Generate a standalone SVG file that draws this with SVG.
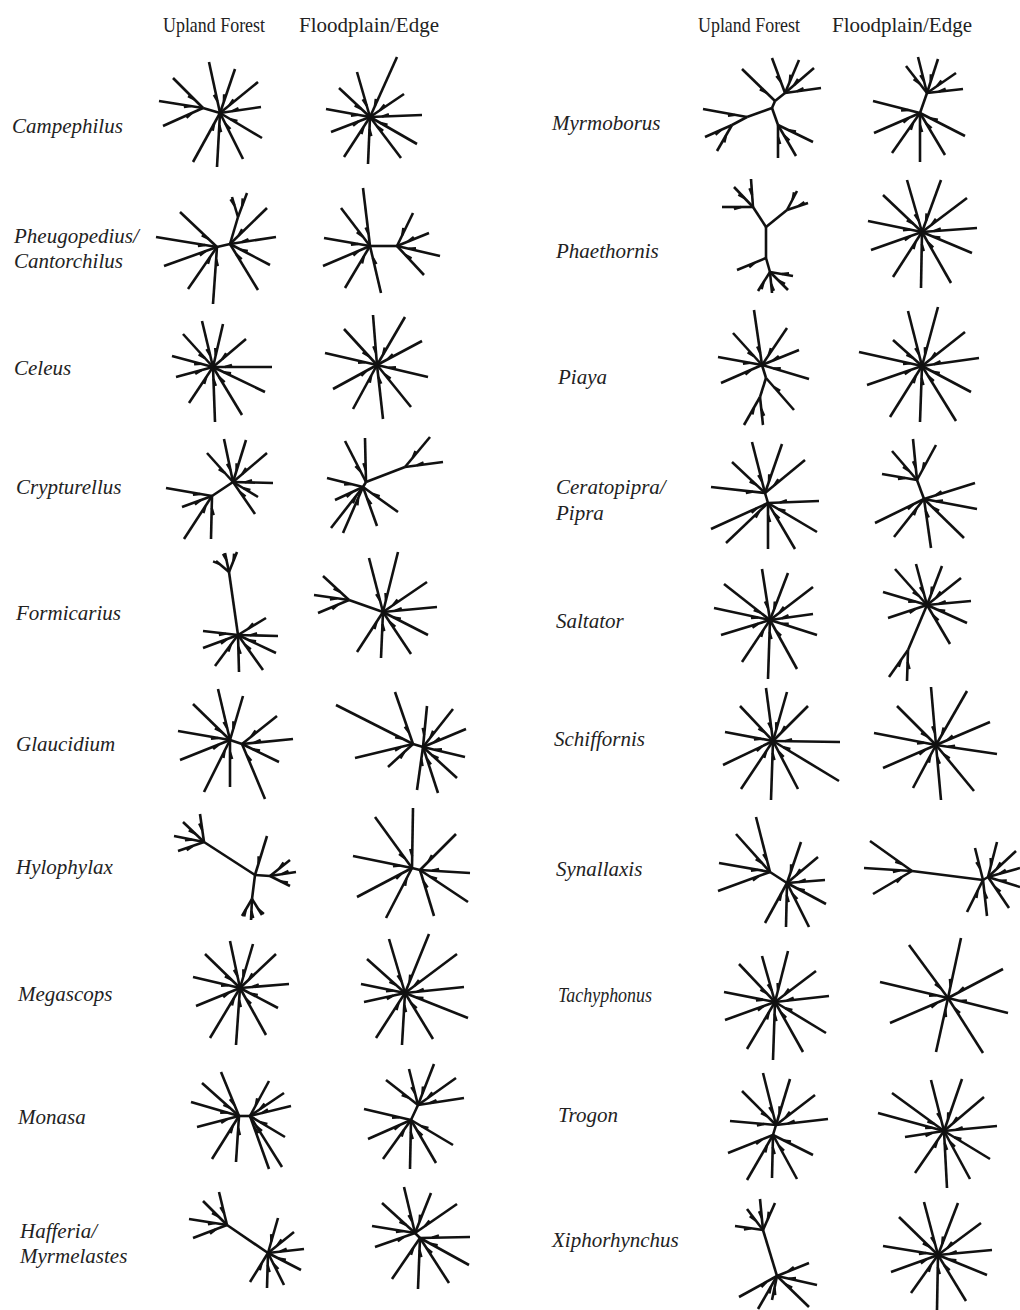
<svg xmlns="http://www.w3.org/2000/svg" width="1020" height="1310" viewBox="0 0 1020 1310">
<style>
.t{stroke:#111;stroke-width:2.6;marker-start:url(#k)}
.i{stroke:#111;stroke-width:2.6}
.lab{font-family:"Liberation Serif",serif;font-style:italic;font-size:21px;fill:#222}
.hd{font-family:"Liberation Serif",serif;font-size:21px;fill:#222}
</style>
<defs>
<marker id="k" markerUnits="userSpaceOnUse" orient="auto" markerWidth="40" markerHeight="40" refX="0" refY="0" overflow="visible">
<path d="M12,0 L19,-2.2" stroke="#111" stroke-width="2.4" fill="none"/>
</marker>
</defs>
<rect width="1020" height="1310" fill="#fff"/>
<g id="headers">
<text class="hd" x="163" y="32" textLength="102" lengthAdjust="spacingAndGlyphs">Upland Forest</text>
<text class="hd" x="299" y="32">Floodplain/Edge</text>
<text class="hd" x="698" y="32" textLength="102" lengthAdjust="spacingAndGlyphs">Upland Forest</text>
<text class="hd" x="832" y="32">Floodplain/Edge</text>
</g>
<g id="labels">
<text class="lab" x="12" y="133">Campephilus</text>
<text class="lab" x="14" y="243">Pheugopedius/</text>
<text class="lab" x="14" y="268">Cantorchilus</text>
<text class="lab" x="14" y="375">Celeus</text>
<text class="lab" x="16" y="494">Crypturellus</text>
<text class="lab" x="16" y="620">Formicarius</text>
<text class="lab" x="16" y="751">Glaucidium</text>
<text class="lab" x="16" y="874">Hylophylax</text>
<text class="lab" x="18" y="1001">Megascops</text>
<text class="lab" x="18" y="1124">Monasa</text>
<text class="lab" x="20" y="1238">Hafferia/</text>
<text class="lab" x="20" y="1263">Myrmelastes</text>
<text class="lab" x="552" y="130">Myrmoborus</text>
<text class="lab" x="556" y="258">Phaethornis</text>
<text class="lab" x="558" y="384">Piaya</text>
<text class="lab" x="556" y="494">Ceratopipra/</text>
<text class="lab" x="556" y="520">Pipra</text>
<text class="lab" x="556" y="628">Saltator</text>
<text class="lab" x="554" y="746">Schiffornis</text>
<text class="lab" x="556" y="876">Synallaxis</text>
<text class="lab" x="558" y="1002" textLength="94" lengthAdjust="spacingAndGlyphs">Tachyphonus</text>
<text class="lab" x="558" y="1122">Trogon</text>
<text class="lab" x="552" y="1247">Xiphorhynchus</text>
</g>
<g id="trees">
<g id="campephilus-upland">
<line class="i" x1="220" y1="113" x2="203" y2="108"/>
<line class="t" x1="220" y1="113" x2="209" y2="62"/>
<line class="t" x1="220" y1="113" x2="235" y2="69"/>
<line class="t" x1="220" y1="113" x2="258" y2="82"/>
<line class="t" x1="220" y1="113" x2="261" y2="107"/>
<line class="t" x1="220" y1="113" x2="262" y2="138"/>
<line class="t" x1="220" y1="113" x2="243" y2="159"/>
<line class="t" x1="220" y1="113" x2="217" y2="167"/>
<line class="t" x1="220" y1="113" x2="193" y2="162"/>
<line class="t" x1="203" y1="108" x2="163" y2="126"/>
<line class="t" x1="203" y1="108" x2="159" y2="101"/>
<line class="t" x1="203" y1="108" x2="173" y2="78"/>
</g>
<g id="campephilus-floodplain">
<line class="t" x1="370" y1="117" x2="357" y2="72"/>
<line class="t" x1="370" y1="117" x2="397" y2="57"/>
<line class="t" x1="370" y1="117" x2="404" y2="94"/>
<line class="t" x1="370" y1="117" x2="422" y2="115"/>
<line class="t" x1="370" y1="117" x2="417" y2="144"/>
<line class="t" x1="370" y1="117" x2="401" y2="158"/>
<line class="t" x1="370" y1="117" x2="368" y2="164"/>
<line class="t" x1="370" y1="117" x2="344" y2="157"/>
<line class="t" x1="370" y1="117" x2="331" y2="132"/>
<line class="t" x1="370" y1="117" x2="326" y2="109"/>
<line class="t" x1="370" y1="117" x2="339" y2="88"/>
</g>
<g id="pheugopedius-upland">
<line class="i" x1="217" y1="247" x2="230" y2="244"/>
<line class="i" x1="230" y1="244" x2="238" y2="217"/>
<line class="t" x1="238" y1="217" x2="232" y2="197"/>
<line class="t" x1="238" y1="217" x2="247" y2="193"/>
<line class="t" x1="230" y1="244" x2="267" y2="208"/>
<line class="t" x1="230" y1="244" x2="276" y2="237"/>
<line class="t" x1="230" y1="244" x2="270" y2="265"/>
<line class="t" x1="230" y1="244" x2="258" y2="290"/>
<line class="t" x1="217" y1="247" x2="213" y2="304"/>
<line class="t" x1="217" y1="247" x2="188" y2="289"/>
<line class="t" x1="217" y1="247" x2="164" y2="266"/>
<line class="t" x1="217" y1="247" x2="156" y2="237"/>
<line class="t" x1="217" y1="247" x2="180" y2="212"/>
</g>
<g id="pheugopedius-floodplain">
<line class="i" x1="370" y1="246" x2="397" y2="246"/>
<line class="t" x1="370" y1="246" x2="363" y2="188"/>
<line class="t" x1="370" y1="246" x2="341" y2="208"/>
<line class="t" x1="370" y1="246" x2="324" y2="238"/>
<line class="t" x1="370" y1="246" x2="323" y2="266"/>
<line class="t" x1="370" y1="246" x2="345" y2="288"/>
<line class="t" x1="370" y1="246" x2="381" y2="293"/>
<line class="t" x1="397" y1="246" x2="413" y2="213"/>
<line class="t" x1="397" y1="246" x2="429" y2="233"/>
<line class="t" x1="397" y1="246" x2="440" y2="256"/>
<line class="t" x1="397" y1="246" x2="424" y2="275"/>
</g>
<g id="celeus-upland">
<line class="t" x1="213" y1="367" x2="202" y2="321"/>
<line class="t" x1="213" y1="367" x2="223" y2="324"/>
<line class="t" x1="213" y1="367" x2="246" y2="339"/>
<line class="t" x1="213" y1="367" x2="272" y2="367"/>
<line class="t" x1="213" y1="367" x2="265" y2="392"/>
<line class="t" x1="213" y1="367" x2="242" y2="415"/>
<line class="t" x1="213" y1="367" x2="215" y2="422"/>
<line class="t" x1="213" y1="367" x2="189" y2="403"/>
<line class="t" x1="213" y1="367" x2="176" y2="377"/>
<line class="t" x1="213" y1="367" x2="172" y2="356"/>
<line class="t" x1="213" y1="367" x2="183" y2="334"/>
</g>
<g id="celeus-floodplain">
<line class="t" x1="377" y1="365" x2="373" y2="315"/>
<line class="t" x1="377" y1="365" x2="405" y2="317"/>
<line class="t" x1="377" y1="365" x2="422" y2="341"/>
<line class="t" x1="377" y1="365" x2="428" y2="377"/>
<line class="t" x1="377" y1="365" x2="411" y2="407"/>
<line class="t" x1="377" y1="365" x2="383" y2="419"/>
<line class="t" x1="377" y1="365" x2="353" y2="409"/>
<line class="t" x1="377" y1="365" x2="333" y2="389"/>
<line class="t" x1="377" y1="365" x2="325" y2="353"/>
<line class="t" x1="377" y1="365" x2="344" y2="329"/>
</g>
<g id="crypturellus-upland">
<line class="i" x1="212" y1="496" x2="233" y2="482"/>
<line class="t" x1="233" y1="482" x2="224" y2="439"/>
<line class="t" x1="233" y1="482" x2="246" y2="440"/>
<line class="t" x1="233" y1="482" x2="267" y2="453"/>
<line class="t" x1="233" y1="482" x2="273" y2="483"/>
<line class="t" x1="233" y1="482" x2="258" y2="497"/>
<line class="t" x1="233" y1="482" x2="255" y2="514"/>
<line class="t" x1="233" y1="482" x2="207" y2="453"/>
<line class="t" x1="212" y1="496" x2="166" y2="488"/>
<line class="t" x1="212" y1="496" x2="182" y2="507"/>
<line class="t" x1="212" y1="496" x2="184" y2="539"/>
<line class="t" x1="212" y1="496" x2="211" y2="539"/>
</g>
<g id="crypturellus-floodplain">
<line class="i" x1="363" y1="487" x2="366" y2="482"/>
<line class="i" x1="366" y1="482" x2="405" y2="467"/>
<line class="t" x1="405" y1="467" x2="430" y2="437"/>
<line class="t" x1="405" y1="467" x2="443" y2="462"/>
<line class="t" x1="366" y1="482" x2="365" y2="438"/>
<line class="t" x1="366" y1="482" x2="345" y2="441"/>
<line class="t" x1="363" y1="487" x2="327" y2="478"/>
<line class="t" x1="363" y1="487" x2="335" y2="500"/>
<line class="t" x1="363" y1="487" x2="331" y2="528"/>
<line class="t" x1="363" y1="487" x2="343" y2="533"/>
<line class="t" x1="363" y1="487" x2="377" y2="526"/>
<line class="t" x1="363" y1="487" x2="398" y2="512"/>
</g>
<g id="formicarius-upland">
<line class="i" x1="229" y1="572" x2="238" y2="635"/>
<line class="t" x1="229" y1="572" x2="216" y2="561"/>
<line class="t" x1="229" y1="572" x2="225" y2="553"/>
<line class="t" x1="229" y1="572" x2="237" y2="552"/>
<line class="t" x1="238" y1="635" x2="266" y2="618"/>
<line class="t" x1="238" y1="635" x2="278" y2="636"/>
<line class="t" x1="238" y1="635" x2="276" y2="653"/>
<line class="t" x1="238" y1="635" x2="263" y2="670"/>
<line class="t" x1="238" y1="635" x2="239" y2="672"/>
<line class="t" x1="238" y1="635" x2="215" y2="666"/>
<line class="t" x1="238" y1="635" x2="203" y2="648"/>
<line class="t" x1="238" y1="635" x2="203" y2="631"/>
</g>
<g id="formicarius-floodplain">
<line class="i" x1="349" y1="600" x2="383" y2="612"/>
<line class="t" x1="349" y1="600" x2="323" y2="576"/>
<line class="t" x1="349" y1="600" x2="314" y2="595"/>
<line class="t" x1="349" y1="600" x2="318" y2="613"/>
<line class="t" x1="383" y1="612" x2="369" y2="558"/>
<line class="t" x1="383" y1="612" x2="398" y2="552"/>
<line class="t" x1="383" y1="612" x2="427" y2="582"/>
<line class="t" x1="383" y1="612" x2="437" y2="607"/>
<line class="t" x1="383" y1="612" x2="428" y2="635"/>
<line class="t" x1="383" y1="612" x2="411" y2="654"/>
<line class="t" x1="383" y1="612" x2="381" y2="658"/>
<line class="t" x1="383" y1="612" x2="357" y2="652"/>
</g>
<g id="glaucidium-upland">
<line class="i" x1="230" y1="740" x2="242" y2="744"/>
<line class="t" x1="230" y1="740" x2="218" y2="689"/>
<line class="t" x1="230" y1="740" x2="243" y2="696"/>
<line class="t" x1="230" y1="740" x2="193" y2="704"/>
<line class="t" x1="230" y1="740" x2="178" y2="731"/>
<line class="t" x1="230" y1="740" x2="180" y2="760"/>
<line class="t" x1="230" y1="740" x2="230" y2="787"/>
<line class="t" x1="230" y1="740" x2="204" y2="792"/>
<line class="t" x1="242" y1="744" x2="277" y2="716"/>
<line class="t" x1="242" y1="744" x2="293" y2="739"/>
<line class="t" x1="242" y1="744" x2="279" y2="762"/>
<line class="t" x1="242" y1="744" x2="265" y2="799"/>
</g>
<g id="glaucidium-floodplain">
<line class="i" x1="413" y1="744" x2="423" y2="747"/>
<line class="t" x1="413" y1="744" x2="336" y2="705"/>
<line class="t" x1="413" y1="744" x2="355" y2="758"/>
<line class="t" x1="413" y1="744" x2="388" y2="767"/>
<line class="t" x1="413" y1="744" x2="395" y2="692"/>
<line class="t" x1="423" y1="747" x2="427" y2="706"/>
<line class="t" x1="423" y1="747" x2="453" y2="709"/>
<line class="t" x1="423" y1="747" x2="466" y2="729"/>
<line class="t" x1="423" y1="747" x2="465" y2="757"/>
<line class="t" x1="423" y1="747" x2="457" y2="778"/>
<line class="t" x1="423" y1="747" x2="438" y2="793"/>
<line class="t" x1="423" y1="747" x2="417" y2="790"/>
</g>
<g id="hylophylax-upland">
<line class="i" x1="204" y1="842" x2="255" y2="875"/>
<line class="i" x1="255" y1="875" x2="270" y2="876"/>
<line class="i" x1="255" y1="875" x2="252" y2="899"/>
<line class="t" x1="204" y1="842" x2="200" y2="814"/>
<line class="t" x1="204" y1="842" x2="183" y2="822"/>
<line class="t" x1="204" y1="842" x2="174" y2="836"/>
<line class="t" x1="204" y1="842" x2="178" y2="851"/>
<line class="t" x1="255" y1="875" x2="267" y2="836"/>
<line class="t" x1="270" y1="876" x2="290" y2="860"/>
<line class="t" x1="270" y1="876" x2="296" y2="872"/>
<line class="t" x1="270" y1="876" x2="290" y2="886"/>
<line class="t" x1="252" y1="899" x2="242" y2="916"/>
<line class="t" x1="252" y1="899" x2="251" y2="920"/>
<line class="t" x1="252" y1="899" x2="262" y2="915"/>
</g>
<g id="hylophylax-floodplain">
<line class="i" x1="412" y1="868" x2="420" y2="870"/>
<line class="t" x1="412" y1="868" x2="413" y2="808"/>
<line class="t" x1="412" y1="868" x2="375" y2="817"/>
<line class="t" x1="412" y1="868" x2="353" y2="856"/>
<line class="t" x1="412" y1="868" x2="357" y2="897"/>
<line class="t" x1="412" y1="868" x2="386" y2="918"/>
<line class="t" x1="420" y1="870" x2="456" y2="834"/>
<line class="t" x1="420" y1="870" x2="470" y2="873"/>
<line class="t" x1="420" y1="870" x2="468" y2="902"/>
<line class="t" x1="420" y1="870" x2="434" y2="916"/>
</g>
<g id="megascops-upland">
<line class="t" x1="240" y1="988" x2="230" y2="941"/>
<line class="t" x1="240" y1="988" x2="253" y2="944"/>
<line class="t" x1="240" y1="988" x2="205" y2="954"/>
<line class="t" x1="240" y1="988" x2="276" y2="954"/>
<line class="t" x1="240" y1="988" x2="193" y2="977"/>
<line class="t" x1="240" y1="988" x2="289" y2="984"/>
<line class="t" x1="240" y1="988" x2="196" y2="1006"/>
<line class="t" x1="240" y1="988" x2="278" y2="1008"/>
<line class="t" x1="240" y1="988" x2="210" y2="1038"/>
<line class="t" x1="240" y1="988" x2="236" y2="1045"/>
<line class="t" x1="240" y1="988" x2="266" y2="1035"/>
</g>
<g id="megascops-floodplain">
<line class="t" x1="405" y1="993" x2="389" y2="939"/>
<line class="t" x1="405" y1="993" x2="429" y2="934"/>
<line class="t" x1="405" y1="993" x2="367" y2="959"/>
<line class="t" x1="405" y1="993" x2="457" y2="954"/>
<line class="t" x1="405" y1="993" x2="361" y2="984"/>
<line class="t" x1="405" y1="993" x2="464" y2="987"/>
<line class="t" x1="405" y1="993" x2="364" y2="1002"/>
<line class="t" x1="405" y1="993" x2="468" y2="1018"/>
<line class="t" x1="405" y1="993" x2="376" y2="1038"/>
<line class="t" x1="405" y1="993" x2="402" y2="1045"/>
<line class="t" x1="405" y1="993" x2="433" y2="1039"/>
</g>
<g id="monasa-upland">
<line class="i" x1="239" y1="1116" x2="250" y2="1116"/>
<line class="t" x1="239" y1="1116" x2="221" y2="1072"/>
<line class="t" x1="239" y1="1116" x2="202" y2="1083"/>
<line class="t" x1="239" y1="1116" x2="191" y2="1102"/>
<line class="t" x1="239" y1="1116" x2="197" y2="1127"/>
<line class="t" x1="239" y1="1116" x2="212" y2="1159"/>
<line class="t" x1="239" y1="1116" x2="236" y2="1162"/>
<line class="t" x1="250" y1="1116" x2="269" y2="1081"/>
<line class="t" x1="250" y1="1116" x2="284" y2="1093"/>
<line class="t" x1="250" y1="1116" x2="291" y2="1106"/>
<line class="t" x1="250" y1="1116" x2="285" y2="1137"/>
<line class="t" x1="250" y1="1116" x2="282" y2="1167"/>
<line class="t" x1="250" y1="1116" x2="269" y2="1169"/>
</g>
<g id="monasa-floodplain">
<line class="i" x1="418" y1="1105" x2="411" y2="1120"/>
<line class="t" x1="418" y1="1105" x2="409" y2="1069"/>
<line class="t" x1="418" y1="1105" x2="434" y2="1064"/>
<line class="t" x1="418" y1="1105" x2="456" y2="1078"/>
<line class="t" x1="418" y1="1105" x2="464" y2="1098"/>
<line class="t" x1="418" y1="1105" x2="386" y2="1080"/>
<line class="t" x1="411" y1="1120" x2="364" y2="1109"/>
<line class="t" x1="411" y1="1120" x2="368" y2="1139"/>
<line class="t" x1="411" y1="1120" x2="383" y2="1159"/>
<line class="t" x1="411" y1="1120" x2="410" y2="1169"/>
<line class="t" x1="411" y1="1120" x2="436" y2="1163"/>
<line class="t" x1="411" y1="1120" x2="453" y2="1145"/>
</g>
<g id="hafferia-upland">
<line class="i" x1="227" y1="1225" x2="268" y2="1253"/>
<line class="t" x1="227" y1="1225" x2="219" y2="1192"/>
<line class="t" x1="227" y1="1225" x2="203" y2="1201"/>
<line class="t" x1="227" y1="1225" x2="189" y2="1219"/>
<line class="t" x1="227" y1="1225" x2="193" y2="1238"/>
<line class="t" x1="268" y1="1253" x2="278" y2="1218"/>
<line class="t" x1="268" y1="1253" x2="294" y2="1232"/>
<line class="t" x1="268" y1="1253" x2="304" y2="1249"/>
<line class="t" x1="268" y1="1253" x2="301" y2="1270"/>
<line class="t" x1="268" y1="1253" x2="284" y2="1285"/>
<line class="t" x1="268" y1="1253" x2="267" y2="1288"/>
<line class="t" x1="268" y1="1253" x2="250" y2="1282"/>
</g>
<g id="hafferia-floodplain">
<line class="i" x1="415" y1="1233" x2="420" y2="1238"/>
<line class="t" x1="415" y1="1233" x2="404" y2="1187"/>
<line class="t" x1="415" y1="1233" x2="431" y2="1193"/>
<line class="t" x1="415" y1="1233" x2="382" y2="1203"/>
<line class="t" x1="415" y1="1233" x2="457" y2="1204"/>
<line class="t" x1="415" y1="1233" x2="372" y2="1226"/>
<line class="t" x1="415" y1="1233" x2="375" y2="1247"/>
<line class="t" x1="420" y1="1238" x2="470" y2="1237"/>
<line class="t" x1="420" y1="1238" x2="469" y2="1265"/>
<line class="t" x1="420" y1="1238" x2="449" y2="1283"/>
<line class="t" x1="420" y1="1238" x2="418" y2="1289"/>
<line class="t" x1="420" y1="1238" x2="392" y2="1279"/>
</g>
<g id="myrmoborus-upland">
<line class="i" x1="772" y1="108" x2="747" y2="117"/>
<line class="i" x1="772" y1="108" x2="775" y2="101"/>
<line class="i" x1="775" y1="101" x2="785" y2="93"/>
<line class="i" x1="772" y1="108" x2="778" y2="125"/>
<line class="i" x1="747" y1="117" x2="732" y2="125"/>
<line class="t" x1="775" y1="101" x2="742" y2="69"/>
<line class="t" x1="785" y1="93" x2="772" y2="58"/>
<line class="t" x1="785" y1="93" x2="799" y2="60"/>
<line class="t" x1="785" y1="93" x2="814" y2="68"/>
<line class="t" x1="785" y1="93" x2="821" y2="88"/>
<line class="t" x1="778" y1="125" x2="813" y2="142"/>
<line class="t" x1="778" y1="125" x2="796" y2="156"/>
<line class="t" x1="778" y1="125" x2="778" y2="158"/>
<line class="t" x1="747" y1="117" x2="703" y2="109"/>
<line class="t" x1="732" y1="125" x2="705" y2="137"/>
<line class="t" x1="732" y1="125" x2="717" y2="151"/>
</g>
<g id="myrmoborus-floodplain">
<line class="i" x1="920" y1="113" x2="927" y2="93"/>
<line class="t" x1="927" y1="93" x2="918" y2="57"/>
<line class="t" x1="927" y1="93" x2="906" y2="66"/>
<line class="t" x1="927" y1="93" x2="938" y2="59"/>
<line class="t" x1="927" y1="93" x2="956" y2="73"/>
<line class="t" x1="927" y1="93" x2="963" y2="89"/>
<line class="t" x1="920" y1="113" x2="873" y2="101"/>
<line class="t" x1="920" y1="113" x2="874" y2="133"/>
<line class="t" x1="920" y1="113" x2="892" y2="153"/>
<line class="t" x1="920" y1="113" x2="920" y2="162"/>
<line class="t" x1="920" y1="113" x2="945" y2="155"/>
<line class="t" x1="920" y1="113" x2="965" y2="136"/>
</g>
<g id="phaethornis-upland">
<line class="i" x1="766" y1="227" x2="766" y2="258"/>
<line class="i" x1="766" y1="227" x2="753" y2="207"/>
<line class="i" x1="766" y1="227" x2="787" y2="210"/>
<line class="i" x1="766" y1="258" x2="770" y2="272"/>
<line class="t" x1="753" y1="207" x2="751" y2="179"/>
<line class="t" x1="753" y1="207" x2="734" y2="187"/>
<line class="t" x1="753" y1="207" x2="722" y2="207"/>
<line class="t" x1="787" y1="210" x2="797" y2="191"/>
<line class="t" x1="787" y1="210" x2="808" y2="203"/>
<line class="t" x1="770" y1="272" x2="793" y2="276"/>
<line class="t" x1="770" y1="272" x2="788" y2="290"/>
<line class="t" x1="770" y1="272" x2="772" y2="293"/>
<line class="t" x1="770" y1="272" x2="758" y2="291"/>
<line class="t" x1="766" y1="258" x2="737" y2="270"/>
</g>
<g id="phaethornis-floodplain">
<line class="t" x1="922" y1="232" x2="907" y2="180"/>
<line class="t" x1="922" y1="232" x2="941" y2="180"/>
<line class="t" x1="922" y1="232" x2="883" y2="195"/>
<line class="t" x1="922" y1="232" x2="967" y2="198"/>
<line class="t" x1="922" y1="232" x2="868" y2="221"/>
<line class="t" x1="922" y1="232" x2="977" y2="228"/>
<line class="t" x1="922" y1="232" x2="871" y2="250"/>
<line class="t" x1="922" y1="232" x2="972" y2="253"/>
<line class="t" x1="922" y1="232" x2="893" y2="277"/>
<line class="t" x1="922" y1="232" x2="921" y2="288"/>
<line class="t" x1="922" y1="232" x2="951" y2="283"/>
</g>
<g id="piaya-upland">
<line class="i" x1="762" y1="365" x2="766" y2="378"/>
<line class="i" x1="766" y1="378" x2="760" y2="397"/>
<line class="t" x1="762" y1="365" x2="754" y2="310"/>
<line class="t" x1="762" y1="365" x2="787" y2="328"/>
<line class="t" x1="762" y1="365" x2="733" y2="333"/>
<line class="t" x1="762" y1="365" x2="799" y2="350"/>
<line class="t" x1="762" y1="365" x2="718" y2="357"/>
<line class="t" x1="762" y1="365" x2="721" y2="383"/>
<line class="t" x1="762" y1="365" x2="809" y2="379"/>
<line class="t" x1="766" y1="378" x2="794" y2="410"/>
<line class="t" x1="760" y1="397" x2="744" y2="425"/>
<line class="t" x1="760" y1="397" x2="763" y2="425"/>
</g>
<g id="piaya-floodplain">
<line class="t" x1="922" y1="366" x2="908" y2="311"/>
<line class="t" x1="922" y1="366" x2="938" y2="307"/>
<line class="t" x1="922" y1="366" x2="893" y2="340"/>
<line class="t" x1="922" y1="366" x2="965" y2="332"/>
<line class="t" x1="922" y1="366" x2="859" y2="352"/>
<line class="t" x1="922" y1="366" x2="979" y2="358"/>
<line class="t" x1="922" y1="366" x2="867" y2="385"/>
<line class="t" x1="922" y1="366" x2="971" y2="392"/>
<line class="t" x1="922" y1="366" x2="890" y2="417"/>
<line class="t" x1="922" y1="366" x2="920" y2="422"/>
<line class="t" x1="922" y1="366" x2="956" y2="421"/>
</g>
<g id="ceratopipra-upland">
<line class="i" x1="765" y1="493" x2="768" y2="503"/>
<line class="t" x1="765" y1="493" x2="752" y2="442"/>
<line class="t" x1="765" y1="493" x2="782" y2="444"/>
<line class="t" x1="765" y1="493" x2="732" y2="462"/>
<line class="t" x1="765" y1="493" x2="805" y2="460"/>
<line class="t" x1="765" y1="493" x2="711" y2="487"/>
<line class="t" x1="768" y1="503" x2="819" y2="501"/>
<line class="t" x1="768" y1="503" x2="817" y2="532"/>
<line class="t" x1="768" y1="503" x2="795" y2="549"/>
<line class="t" x1="768" y1="503" x2="768" y2="549"/>
<line class="t" x1="768" y1="503" x2="726" y2="543"/>
<line class="t" x1="768" y1="503" x2="711" y2="529"/>
</g>
<g id="ceratopipra-floodplain">
<line class="i" x1="917" y1="480" x2="924" y2="499"/>
<line class="t" x1="917" y1="480" x2="913" y2="439"/>
<line class="t" x1="917" y1="480" x2="936" y2="445"/>
<line class="t" x1="917" y1="480" x2="892" y2="451"/>
<line class="t" x1="917" y1="480" x2="882" y2="474"/>
<line class="t" x1="924" y1="499" x2="975" y2="483"/>
<line class="t" x1="924" y1="499" x2="977" y2="509"/>
<line class="t" x1="924" y1="499" x2="964" y2="538"/>
<line class="t" x1="924" y1="499" x2="931" y2="548"/>
<line class="t" x1="924" y1="499" x2="894" y2="537"/>
<line class="t" x1="924" y1="499" x2="875" y2="523"/>
</g>
<g id="saltator-upland">
<line class="t" x1="770" y1="620" x2="762" y2="569"/>
<line class="t" x1="770" y1="620" x2="788" y2="573"/>
<line class="t" x1="770" y1="620" x2="724" y2="584"/>
<line class="t" x1="770" y1="620" x2="813" y2="587"/>
<line class="t" x1="770" y1="620" x2="714" y2="608"/>
<line class="t" x1="770" y1="620" x2="813" y2="614"/>
<line class="t" x1="770" y1="620" x2="721" y2="635"/>
<line class="t" x1="770" y1="620" x2="817" y2="635"/>
<line class="t" x1="770" y1="620" x2="742" y2="662"/>
<line class="t" x1="770" y1="620" x2="768" y2="679"/>
<line class="t" x1="770" y1="620" x2="797" y2="669"/>
</g>
<g id="saltator-floodplain">
<line class="i" x1="927" y1="605" x2="908" y2="650"/>
<line class="t" x1="927" y1="605" x2="916" y2="564"/>
<line class="t" x1="927" y1="605" x2="942" y2="566"/>
<line class="t" x1="927" y1="605" x2="895" y2="569"/>
<line class="t" x1="927" y1="605" x2="961" y2="578"/>
<line class="t" x1="927" y1="605" x2="883" y2="592"/>
<line class="t" x1="927" y1="605" x2="971" y2="601"/>
<line class="t" x1="927" y1="605" x2="888" y2="618"/>
<line class="t" x1="927" y1="605" x2="967" y2="623"/>
<line class="t" x1="927" y1="605" x2="950" y2="644"/>
<line class="t" x1="908" y1="650" x2="889" y2="677"/>
<line class="t" x1="908" y1="650" x2="907" y2="681"/>
</g>
<g id="schiffornis-upland">
<line class="t" x1="773" y1="741" x2="766" y2="688"/>
<line class="t" x1="773" y1="741" x2="787" y2="692"/>
<line class="t" x1="773" y1="741" x2="740" y2="706"/>
<line class="t" x1="773" y1="741" x2="808" y2="706"/>
<line class="t" x1="773" y1="741" x2="725" y2="732"/>
<line class="t" x1="773" y1="741" x2="840" y2="742"/>
<line class="t" x1="773" y1="741" x2="723" y2="765"/>
<line class="t" x1="773" y1="741" x2="839" y2="781"/>
<line class="t" x1="773" y1="741" x2="741" y2="789"/>
<line class="t" x1="773" y1="741" x2="798" y2="789"/>
<line class="t" x1="773" y1="741" x2="771" y2="800"/>
</g>
<g id="schiffornis-floodplain">
<line class="t" x1="936" y1="745" x2="931" y2="687"/>
<line class="t" x1="936" y1="745" x2="967" y2="691"/>
<line class="t" x1="936" y1="745" x2="897" y2="706"/>
<line class="t" x1="936" y1="745" x2="990" y2="722"/>
<line class="t" x1="936" y1="745" x2="874" y2="733"/>
<line class="t" x1="936" y1="745" x2="997" y2="754"/>
<line class="t" x1="936" y1="745" x2="883" y2="768"/>
<line class="t" x1="936" y1="745" x2="974" y2="791"/>
<line class="t" x1="936" y1="745" x2="913" y2="788"/>
<line class="t" x1="936" y1="745" x2="941" y2="800"/>
</g>
<g id="synallaxis-upland">
<line class="i" x1="770" y1="872" x2="787" y2="883"/>
<line class="t" x1="770" y1="872" x2="756" y2="817"/>
<line class="t" x1="770" y1="872" x2="736" y2="834"/>
<line class="t" x1="770" y1="872" x2="719" y2="863"/>
<line class="t" x1="770" y1="872" x2="718" y2="891"/>
<line class="t" x1="787" y1="883" x2="801" y2="842"/>
<line class="t" x1="787" y1="883" x2="818" y2="857"/>
<line class="t" x1="787" y1="883" x2="825" y2="880"/>
<line class="t" x1="787" y1="883" x2="826" y2="904"/>
<line class="t" x1="787" y1="883" x2="809" y2="927"/>
<line class="t" x1="787" y1="883" x2="786" y2="927"/>
<line class="t" x1="787" y1="883" x2="765" y2="923"/>
</g>
<g id="synallaxis-floodplain">
<line class="i" x1="912" y1="871" x2="983" y2="880"/>
<line class="i" x1="983" y1="880" x2="988" y2="877"/>
<line class="t" x1="912" y1="871" x2="870" y2="841"/>
<line class="t" x1="912" y1="871" x2="864" y2="868"/>
<line class="t" x1="912" y1="871" x2="873" y2="894"/>
<line class="t" x1="983" y1="880" x2="975" y2="848"/>
<line class="t" x1="983" y1="880" x2="967" y2="912"/>
<line class="t" x1="983" y1="880" x2="987" y2="916"/>
<line class="t" x1="988" y1="877" x2="997" y2="842"/>
<line class="t" x1="988" y1="877" x2="1016" y2="851"/>
<line class="t" x1="988" y1="877" x2="1020" y2="868"/>
<line class="t" x1="988" y1="877" x2="1020" y2="887"/>
<line class="t" x1="988" y1="877" x2="1009" y2="908"/>
</g>
<g id="tachyphonus-upland">
<line class="t" x1="775" y1="1002" x2="762" y2="956"/>
<line class="t" x1="775" y1="1002" x2="788" y2="951"/>
<line class="t" x1="775" y1="1002" x2="739" y2="964"/>
<line class="t" x1="775" y1="1002" x2="816" y2="971"/>
<line class="t" x1="775" y1="1002" x2="724" y2="992"/>
<line class="t" x1="775" y1="1002" x2="829" y2="996"/>
<line class="t" x1="775" y1="1002" x2="725" y2="1020"/>
<line class="t" x1="775" y1="1002" x2="826" y2="1033"/>
<line class="t" x1="775" y1="1002" x2="747" y2="1049"/>
<line class="t" x1="775" y1="1002" x2="773" y2="1060"/>
<line class="t" x1="775" y1="1002" x2="803" y2="1052"/>
</g>
<g id="tachyphonus-floodplain">
<line class="t" x1="948" y1="998" x2="961" y2="938"/>
<line class="t" x1="948" y1="998" x2="909" y2="945"/>
<line class="t" x1="948" y1="998" x2="1003" y2="969"/>
<line class="t" x1="948" y1="998" x2="880" y2="982"/>
<line class="t" x1="948" y1="998" x2="1008" y2="1013"/>
<line class="t" x1="948" y1="998" x2="890" y2="1023"/>
<line class="t" x1="948" y1="998" x2="936" y2="1052"/>
<line class="t" x1="948" y1="998" x2="983" y2="1053"/>
</g>
<g id="trogon-upland">
<line class="i" x1="776" y1="1125" x2="773" y2="1135"/>
<line class="t" x1="776" y1="1125" x2="763" y2="1073"/>
<line class="t" x1="776" y1="1125" x2="790" y2="1079"/>
<line class="t" x1="776" y1="1125" x2="742" y2="1091"/>
<line class="t" x1="776" y1="1125" x2="815" y2="1095"/>
<line class="t" x1="776" y1="1125" x2="730" y2="1121"/>
<line class="t" x1="776" y1="1125" x2="828" y2="1119"/>
<line class="t" x1="773" y1="1135" x2="728" y2="1153"/>
<line class="t" x1="773" y1="1135" x2="813" y2="1155"/>
<line class="t" x1="773" y1="1135" x2="747" y2="1180"/>
<line class="t" x1="773" y1="1135" x2="772" y2="1178"/>
<line class="t" x1="773" y1="1135" x2="797" y2="1179"/>
</g>
<g id="trogon-floodplain">
<line class="t" x1="944" y1="1131" x2="931" y2="1080"/>
<line class="t" x1="944" y1="1131" x2="962" y2="1079"/>
<line class="t" x1="944" y1="1131" x2="892" y2="1093"/>
<line class="t" x1="944" y1="1131" x2="984" y2="1097"/>
<line class="t" x1="944" y1="1131" x2="878" y2="1113"/>
<line class="t" x1="944" y1="1131" x2="997" y2="1126"/>
<line class="t" x1="944" y1="1131" x2="905" y2="1137"/>
<line class="t" x1="944" y1="1131" x2="990" y2="1159"/>
<line class="t" x1="944" y1="1131" x2="915" y2="1173"/>
<line class="t" x1="944" y1="1131" x2="947" y2="1188"/>
<line class="t" x1="944" y1="1131" x2="970" y2="1179"/>
</g>
<g id="xiphorhynchus-upland">
<line class="i" x1="763" y1="1230" x2="777" y2="1276"/>
<line class="t" x1="763" y1="1230" x2="760" y2="1199"/>
<line class="t" x1="763" y1="1230" x2="775" y2="1203"/>
<line class="t" x1="763" y1="1230" x2="747" y2="1209"/>
<line class="t" x1="763" y1="1230" x2="735" y2="1226"/>
<line class="t" x1="777" y1="1276" x2="809" y2="1263"/>
<line class="t" x1="777" y1="1276" x2="817" y2="1285"/>
<line class="t" x1="777" y1="1276" x2="809" y2="1307"/>
<line class="t" x1="777" y1="1276" x2="739" y2="1297"/>
<line class="t" x1="777" y1="1276" x2="758" y2="1309"/>
<line class="t" x1="777" y1="1276" x2="772" y2="1300"/>
</g>
<g id="xiphorhynchus-floodplain">
<line class="t" x1="938" y1="1255" x2="924" y2="1202"/>
<line class="t" x1="938" y1="1255" x2="958" y2="1203"/>
<line class="t" x1="938" y1="1255" x2="899" y2="1217"/>
<line class="t" x1="938" y1="1255" x2="981" y2="1223"/>
<line class="t" x1="938" y1="1255" x2="883" y2="1246"/>
<line class="t" x1="938" y1="1255" x2="992" y2="1250"/>
<line class="t" x1="938" y1="1255" x2="891" y2="1272"/>
<line class="t" x1="938" y1="1255" x2="987" y2="1275"/>
<line class="t" x1="938" y1="1255" x2="911" y2="1293"/>
<line class="t" x1="938" y1="1255" x2="937" y2="1310"/>
<line class="t" x1="938" y1="1255" x2="966" y2="1301"/>
</g>
</g>
</svg>
